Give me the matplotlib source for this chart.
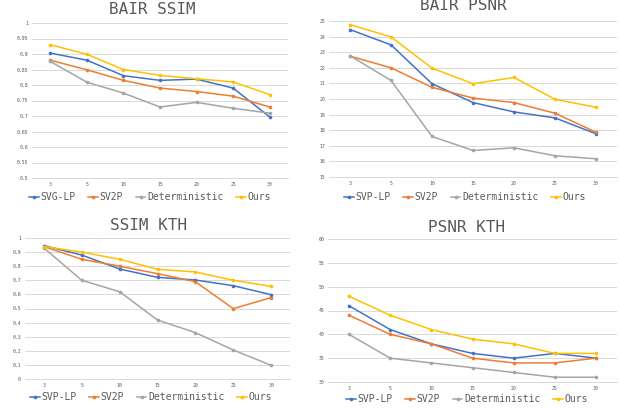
import matplotlib
matplotlib.use("Agg")
import matplotlib.pyplot as plt
import numpy as np

horizons = ["3", "5", "10", "15", "20", "25", "30"]

bair_ssim_svg = [0.903, 0.880, 0.830, 0.815, 0.819, 0.790, 0.697]
bair_ssim_sv2p = [0.880, 0.849, 0.815, 0.790, 0.779, 0.764, 0.729]
bair_ssim_det = [0.876, 0.809, 0.774, 0.729, 0.744, 0.725, 0.709]
bair_ssim_ours = [0.930, 0.899, 0.850, 0.831, 0.820, 0.810, 0.769]

bair_psnr_svp = [24.45, 23.47, 20.98, 19.77, 19.17, 18.79, 17.77]
bair_psnr_sv2p = [22.75, 22.0, 20.75, 20.06, 19.77, 19.09, 17.87]
bair_psnr_det = [22.77, 21.19, 17.6, 16.7, 16.87, 16.36, 16.17]
bair_psnr_ours = [24.77, 23.98, 21.98, 20.98, 21.38, 19.98, 19.47]

kth_ssim_svp = [0.946, 0.879, 0.780, 0.721, 0.702, 0.662, 0.598]
kth_ssim_sv2p = [0.939, 0.849, 0.800, 0.747, 0.690, 0.499, 0.577]
kth_ssim_det = [0.929, 0.700, 0.619, 0.418, 0.329, 0.206, 0.097]
kth_ssim_ours = [0.939, 0.900, 0.849, 0.778, 0.759, 0.700, 0.657]

kth_psnr_svp = [46, 41, 38, 36, 35, 36, 35]
kth_psnr_sv2p = [44, 40, 38, 35, 34, 34, 35]
kth_psnr_det = [40, 35, 34, 33, 32, 31, 31]
kth_psnr_ours = [48, 44, 41, 39, 38, 36, 36]

COLORS = ["#4472C4", "#ED7D31", "#A5A5A5", "#FFC000"]
TEXT = "#595959"
GRID = "#D9D9D9"
MONO = "DejaVu Sans Mono"

W, H = 619, 408


def px_rect(x0, x1, ytop, ybot):
    return [x0 / W, 1 - ybot / H, (x1 - x0) / W, (ybot - ytop) / H]


def draw_panel(fig, rect, title, title_xy, legend_xy, labels, series,
               ylim, yticks, ylabels):
    ax = fig.add_axes(rect)
    xs = np.arange(len(horizons))
    for vals, color, label in zip(series, COLORS, labels):
        ax.plot(xs, vals, color=color, linewidth=1.1, marker="o",
                markersize=1.6, label=label)
    ax.set_xlim(-0.5, len(horizons) - 0.5)
    ax.set_ylim(*ylim)
    ax.set_yticks(yticks)
    ax.set_yticklabels(ylabels)
    ax.set_xticks(xs)
    ax.set_xticklabels(horizons)
    ax.tick_params(length=0, labelsize=3.5, colors=TEXT, pad=3)
    for lab in ax.get_xticklabels() + ax.get_yticklabels():
        lab.set_family(MONO)
    ax.grid(True, axis="y", color=GRID, linewidth=0.7)
    ax.set_axisbelow(True)
    for side in ["top", "right", "left"]:
        ax.spines[side].set_visible(False)
    ax.spines["bottom"].set_color(GRID)
    ax.spines["bottom"].set_linewidth(0.7)

    fig.text(title_xy[0] / W, 1 - title_xy[1] / H, title, ha="center",
             va="center", fontsize=11.5, family=MONO, color=TEXT)
    ax.legend(loc="center", bbox_to_anchor=(legend_xy[0] / W, 1 - legend_xy[1] / H),
              bbox_transform=fig.transFigure, ncol=4, frameon=False,
              prop={"family": MONO, "size": 7}, labelcolor=TEXT,
              handlelength=1.0, handletextpad=0.15, columnspacing=1.3,
              borderpad=0)
    return ax


fig = plt.figure(figsize=(W / 100, H / 100), dpi=100)

draw_panel(fig, px_rect(32, 288, 23, 178), "BAIR SSIM", (152, 10), (150, 197),
           ["SVG-LP", "SV2P", "Deterministic", "Ours"],
           [bair_ssim_svg, bair_ssim_sv2p, bair_ssim_det, bair_ssim_ours],
           (0.5, 1.0), np.arange(0.5, 1.001, 0.05),
           ["0.5", "0.55", "0.6", "0.65", "0.7", "0.75", "0.8", "0.85", "0.9", "0.95", "1"])

draw_panel(fig, px_rect(329.5, 616.5, 21, 177), "BAIR PSNR", (463, 5.5), (465, 197),
           ["SVP-LP", "SV2P", "Deterministic", "Ours"],
           [bair_psnr_svp, bair_psnr_sv2p, bair_psnr_det, bair_psnr_ours],
           (15, 25), np.arange(15, 26, 1), [str(v) for v in range(15, 26)])

draw_panel(fig, px_rect(25, 290, 238, 379), "SSIM KTH", (149, 226), (151, 397),
           ["SVP-LP", "SV2P", "Deterministic", "Ours"],
           [kth_ssim_svp, kth_ssim_sv2p, kth_ssim_det, kth_ssim_ours],
           (0, 1), np.arange(0, 1.001, 0.1),
           ["0", "0.1", "0.2", "0.3", "0.4", "0.5", "0.6", "0.7", "0.8", "0.9", "1"])

draw_panel(fig, px_rect(328.4, 616.6, 239, 382), "PSNR KTH", (466, 227), (467, 399),
           ["SVP-LP", "SV2P", "Deterministic", "Ours"],
           [kth_psnr_svp, kth_psnr_sv2p, kth_psnr_det, kth_psnr_ours],
           (30, 60), np.arange(30, 61, 5), [str(v) for v in range(30, 61, 5)])

fig.savefig("out.png", dpi=100)
